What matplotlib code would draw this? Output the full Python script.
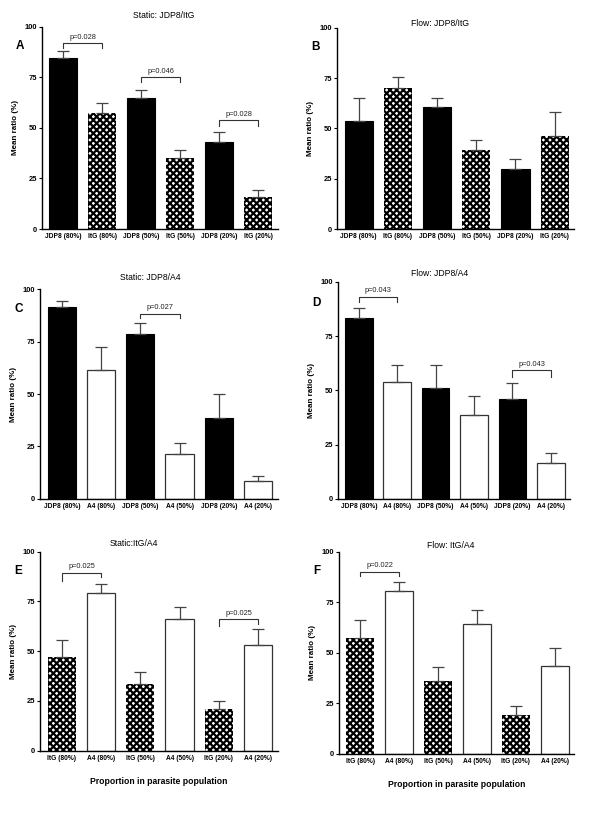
import matplotlib.pyplot as plt
import matplotlib as mpl

plt.rcParams['font.family'] = ['Liberation Sans', 'DejaVu Sans']
mpl.rcParams['hatch.linewidth'] = 1.6

# ---- data ----
labels_a = ["JDP8 (80%)", "ItG (80%)", "JDP8 (50%)", "ItG (50%)", "JDP8 (20%)", "ItG (20%)"]
labels_c = ["JDP8 (80%)", "A4 (80%)", "JDP8 (50%)", "A4 (50%)", "JDP8 (20%)", "A4 (20%)"]
labels_e = ["ItG (80%)", "A4 (80%)", "ItG (50%)", "A4 (50%)", "ItG (20%)", "A4 (20%)"]

mean_a = [84.6, 57.3, 64.9, 35.1, 43.1, 15.7]
top_a = [88.0, 62.2, 68.8, 39.1, 48.2, 19.1]
mean_b = [53.9, 70.2, 60.5, 39.3, 29.8, 46.3]
top_b = [65.3, 75.7, 65.3, 44.3, 34.9, 57.9]
mean_c = [91.6, 61.5, 78.6, 21.6, 38.8, 8.7]
top_c = [94.3, 72.3, 83.7, 26.5, 49.9, 11.1]
mean_d = [83.4, 53.8, 51.2, 38.5, 46.1, 16.5]
top_d = [87.8, 61.5, 61.8, 47.3, 53.6, 21.0]
mean_e = [47.0, 79.2, 33.7, 66.1, 20.8, 52.9]
top_e = [55.7, 83.6, 39.4, 72.1, 25.2, 61.1]
mean_f = [57.1, 80.8, 35.9, 64.4, 19.2, 43.4]
top_f = [66.1, 85.1, 42.9, 71.2, 23.5, 52.2]

# bar styles: 'k' solid black, 'h' hatched (ItG), 'w' open (A4)
style_a = ['k', 'h', 'k', 'h', 'k', 'h']
style_c = ['k', 'w', 'k', 'w', 'k', 'w']
style_e = ['h', 'w', 'h', 'w', 'h', 'w']

# significance brackets: (bar i, bar j, bracket y, left tick end, right tick end, text)
sig_a = [(0, 1, 91.9, 89.4, 89.4, "p=0.028"), (2, 3, 75.2, 72.6, 72.6, "p=0.046"),
         (4, 5, 53.8, 51.2, 51.2, "p=0.028")]
sig_b = []
sig_c = [(2, 3, 88.4, 86.4, 86.4, "p=0.027")]
sig_d = [(0, 1, 93.1, 90.8, 90.8, "p=0.043"), (4, 5, 59.2, 56.2, 56.2, "p=0.043")]
sig_e = [(0, 1, 89.4, 85.2, 87.5, "p=0.025"), (4, 5, 66.1, 62.8, 63.5, "p=0.025")]
sig_f = [(0, 1, 90.2, 87.9, 87.9, "p=0.022")]

# letter, title, title centre x / y (figure px), labels, means, tops, styles, brackets, axes rect, x label
panels = [
    ("A", "Static: JDP8/ItG", 164, 15, labels_a, mean_a, top_a, style_a, sig_a, [0.070, 0.719, 0.393, 0.248], False),
    ("B", "Flow: JDP8/ItG", 440, 23, labels_a, mean_b, top_b, style_a, sig_b, [0.562, 0.719, 0.395, 0.247], False),
    ("C", "Static: JDP8/A4", 150, 277, labels_c, mean_c, top_c, style_c, sig_c, [0.067, 0.388, 0.396, 0.257], False),
    ("D", "Flow: JDP8/A4", 440, 273, labels_c, mean_d, top_d, style_c, sig_d, [0.563, 0.388, 0.387, 0.266], False),
    ("E", "Static:ItG/A4", 134, 544, labels_e, mean_e, top_e, style_e, sig_e, [0.067, 0.079, 0.396, 0.244], True),
    ("F", "Flow: ItG/A4", 451, 545, labels_e, mean_f, top_f, style_e, sig_f, [0.565, 0.075, 0.392, 0.248], True),
]

W, H = 600, 815
fig = plt.figure(figsize=(W / 100, H / 100), dpi=100)

for letter, title, tx, ty, labels, means, tops, styles, sigs, rect, xlab in panels:
    ax = fig.add_axes(rect)
    x = list(range(len(means)))
    for xi, m, s in zip(x, means, styles):
        if s == 'k':
            ax.bar(xi, m, width=0.72, color='black', edgecolor='black', linewidth=0.8)
        elif s == 'w':
            ax.bar(xi, m, width=0.72, color='white', edgecolor='#333333', linewidth=0.9)
        else:
            ax.bar(xi, m, width=0.72, color='white', edgecolor='black', hatch='xxxxx', linewidth=0)
    err = [t - m for t, m in zip(tops, means)]
    ax.errorbar(x, means, yerr=[[0] * len(means), err], fmt='none', ecolor='#444444',
                elinewidth=0.9, capsize=4.5, capthick=0.9)
    for i, j, y, li, lj, txt in sigs:
        ax.plot([i, i, j, j], [li, y, y, lj], color='#333333', lw=0.8)
        ax.text((i + j) / 2, y + 1.2, txt, ha='center', va='bottom', fontsize=5.3, color='#222222')

    ax.set_xlim(-0.55, 5.5)
    ax.set_ylim(0, 100)
    ax.set_yticks([0, 25, 50, 75, 100])
    ax.set_xticks(x)
    ax.set_xticklabels(labels, fontsize=4.8, fontweight='bold')
    ax.tick_params(axis='y', labelsize=5.4, length=2.5, width=0.8, pad=1)
    ax.tick_params(axis='x', length=0, pad=3)
    for lab in ax.get_yticklabels():
        lab.set_fontweight('bold')
    ax.spines['top'].set_visible(False)
    ax.spines['right'].set_visible(False)
    ax.spines['left'].set_linewidth(1.0)
    ax.spines['bottom'].set_linewidth(1.0)
    ax.set_ylabel("Mean ratio (%)", fontsize=5.8, fontweight='bold', labelpad=4)
    fig.text(tx / W, 1 - ty / H, title, ha='center', va='center', fontsize=6.2)
    ax.text(-0.11, 0.89, letter, transform=ax.transAxes, fontsize=8.5, fontweight='bold')
    if xlab:
        ax.set_xlabel("Proportion in parasite population", fontsize=6.2, fontweight='bold', labelpad=11)

fig.savefig("out.png", dpi=100)
